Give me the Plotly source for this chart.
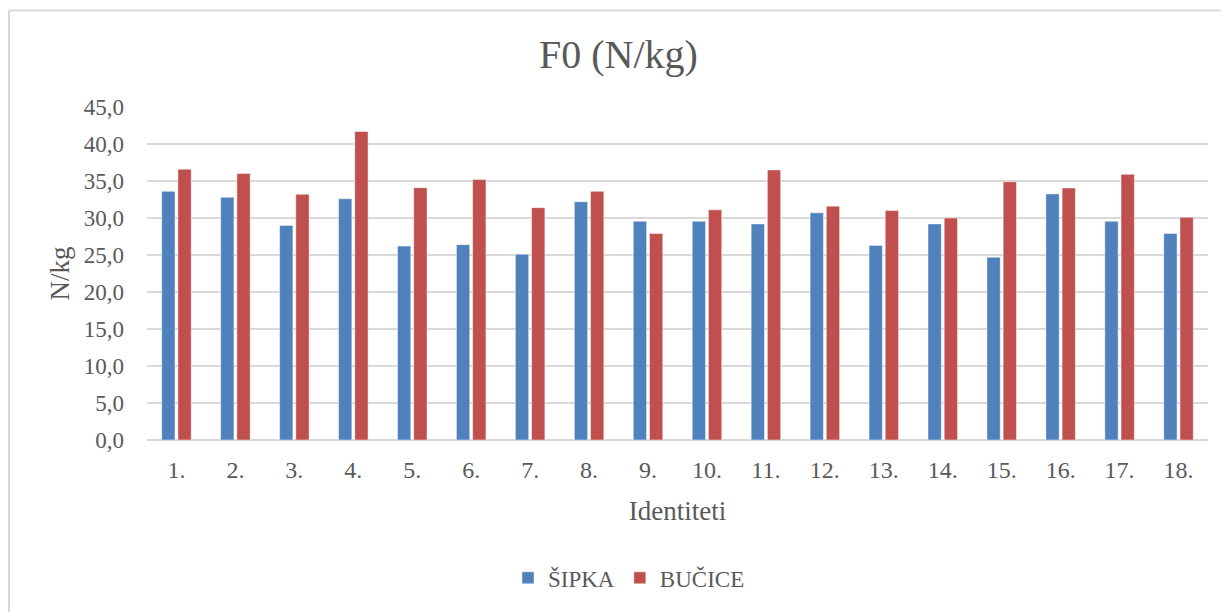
import plotly.graph_objects as go

categories = [f"{i}." for i in range(1, 19)]
sipka = [33.6, 32.8, 29.0, 32.6, 26.2, 26.4, 25.1, 32.2, 29.55, 29.55, 29.2, 30.7, 26.3, 29.2, 24.7, 33.25, 29.55, 27.9]
bucice = [36.6, 36.0, 33.2, 41.7, 34.1, 35.2, 31.4, 33.6, 27.9, 31.1, 36.5, 31.6, 31.0, 30.0, 34.9, 34.05, 35.9, 30.1]
y_ticks = [0, 5, 10, 15, 20, 25, 30, 35, 40, 45]
y_tick_labels = [f"{v:.1f}".replace(".", ",") for v in y_ticks]

FONT = "Liberation Serif"
GRAY = "#595959"
OFF = 8  # page body margin

fig = go.Figure()
fig.add_trace(go.Bar(x=categories, y=sipka, name="ŠIPKA",
                     marker=dict(color="#4F81BD", line=dict(color="rgba(255,255,255,0.45)", width=1))))
fig.add_trace(go.Bar(x=categories, y=bucice, name="BUČICE",
                     marker=dict(color="#C0504D", line=dict(color="rgba(255,255,255,0.45)", width=1))))

W, H = 1229 - OFF, 612 - OFF
L = 147 - OFF
T = 106.7 - OFF
plot_bottom = 440 - OFF
plot_right = 1208 - OFF
B = H - plot_bottom
R = W - plot_right
ph = H - T - B
pw = W - L - R

def px_x(px):
    return (px - OFF - L) / pw

def px_y(py):
    return (plot_bottom - (py - OFF)) / ph

fig.update_layout(
    width=W, height=H,
    margin=dict(l=L, r=R, t=T, b=B, autoexpand=False),
    paper_bgcolor="white", plot_bgcolor="white",
    barmode="group", bargap=0.45, bargroupgap=0.18,
    font=dict(family=FONT, color=GRAY, size=23),
    title=dict(text="F0 (N/kg)", x=0.5, xanchor="center", y=1 - (54 - OFF) / H, yanchor="middle",
               font=dict(family=FONT, size=40, color=GRAY)),
    legend=dict(orientation="h", x=px_x(629), xanchor="center", xref="paper",
                y=px_y(578), yanchor="middle", font=dict(family=FONT, size=23, color=GRAY),
                traceorder="normal"),
    xaxis=dict(type="category", showgrid=False, showline=False, ticks="",
               tickfont=dict(family=FONT, size=24, color=GRAY), ticklabelstandoff=13,
               title=dict(text="Identiteti", font=dict(family=FONT, size=27, color=GRAY), standoff=19)),
    yaxis=dict(range=[0, 45], tickvals=y_ticks, ticktext=y_tick_labels,
               showgrid=True, gridcolor="#D9D9D9", gridwidth=1.5,
               zeroline=True, zerolinecolor="#D9D9D9", zerolinewidth=1.5,
               showline=False, ticks="", ticklabelstandoff=22,
               tickfont=dict(family=FONT, size=23, color=GRAY),
               title=dict(text="N/kg", font=dict(family=FONT, size=27, color=GRAY), standoff=6)),
    showlegend=True,
)

# chart area border (left and top edges visible)
fig.add_shape(type="line", xref="paper", yref="paper",
              x0=px_x(OFF + 1), x1=px_x(OFF + 1), y0=px_y(640), y1=px_y(10),
              line=dict(color="#D9D9D9", width=2))
fig.add_shape(type="line", xref="paper", yref="paper",
              x0=px_x(OFF + 1), x1=px_x(1260), y0=px_y(10), y1=px_y(10),
              line=dict(color="#D9D9D9", width=2))

fig.write_html("out.html")
